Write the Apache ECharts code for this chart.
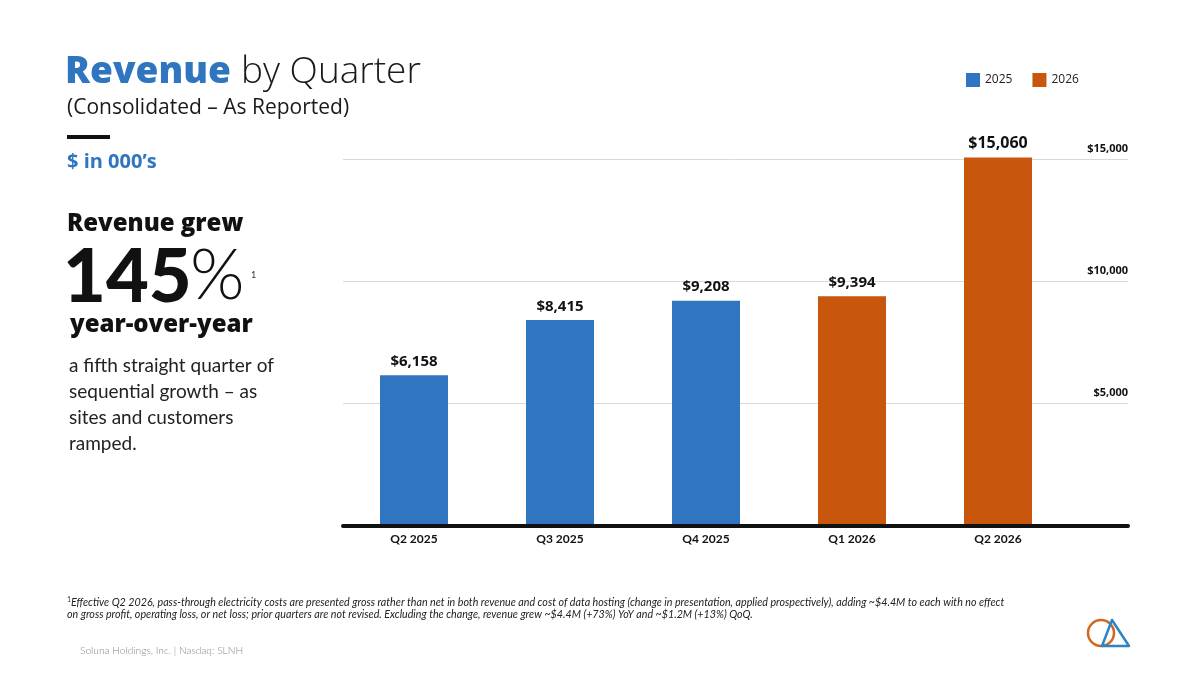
<!DOCTYPE html>
<html>
<head>
<meta charset="utf-8">
<script src="https://cdn.jsdelivr.net/npm/echarts@6/dist/echarts.min.js"></script>
<style>
html,body{margin:0;padding:0;background:#fff;}
#c{width:1200px;height:675px;}
</style>
</head>
<body>
<div id="c"></div>
<script>
const categories = ['Q2 2025', 'Q3 2025', 'Q4 2025', 'Q1 2026', 'Q2 2026'];
const revenue2025 = [6158, 8415, 9208, '-', '-'];
const revenue2026 = ['-', '-', '-', 9394, 15060];
const yTicks = [0, 5000, 10000, 15000];

const BLUE = '#2f75bf';
const ORANGE = '#c9560d';
const FONT = 'Lato, "Open Sans", sans-serif';
const HFONT = '"Open Sans", Lato, sans-serif';

const fmt = v => '$' + Number(v).toLocaleString('en-US');

const chart = echarts.init(document.getElementById('c'), null, {renderer: 'canvas'});

function txt(x, y, text, font, fill) {
  return {
    type: 'text', x: x, y: y, silent: true,
    style: {text: text, font: font, fill: fill, textAlign: 'left', textVerticalAlign: 'middle'}
  };
}

const graphics = [
  txt(65, 72, 'Revenue', '800 37px ' + HFONT, BLUE),
  txt(241, 72, 'by Quarter', '300 37px ' + HFONT, '#1a1a1a'),
  txt(67, 108, '(Consolidated \u2013 As Reported)', '400 21px ' + HFONT, '#1a1a1a'),
  {type: 'rect', silent: true, shape: {x: 67, y: 135, width: 43, height: 4}, style: {fill: '#111'}},
  txt(67, 162, '$ in 000\u2019s', '700 20px ' + HFONT, BLUE),
  txt(67, 224, 'Revenue grew', '800 24px ' + HFONT, '#111'),
  txt(63, 278, '145', '900 74px ' + FONT, '#111'),
  txt(190, 276, '%', '300 70px ' + FONT, '#111'),
  txt(251, 275, '1', '400 9px ' + FONT, '#333'),
  txt(70, 325, 'year-over-year', '800 24px ' + HFONT, '#111'),
  txt(69, 366, 'a fifth straight quarter of', '400 19px ' + FONT, '#222'),
  txt(69, 392, 'sequential growth \u2013 as', '400 19px ' + FONT, '#222'),
  txt(69, 418, 'sites and customers', '400 19px ' + FONT, '#222'),
  txt(69, 444, 'ramped.', '400 19px ' + FONT, '#222'),
  txt(67, 600, '1', '400 7px ' + FONT, '#333'),
  txt(71, 603, 'Effective Q2 2026, pass-through electricity costs are presented gross rather than net in both revenue and cost of data hosting (change in presentation, applied prospectively), adding ~$4.4M to each with no effect', 'italic 400 10.7px ' + FONT, '#222'),
  txt(67, 615, 'on gross profit, operating loss, or net loss; prior quarters are not revised. Excluding the change, revenue grew ~$4.4M (+73%) YoY and ~$1.2M (+13%) QoQ.', 'italic 400 10.7px ' + FONT, '#222'),
  txt(80, 651, 'Soluna Holdings, Inc. | Nasdaq: SLNH', '300 10.2px ' + FONT, '#888'),
  {type: 'circle', silent: true, shape: {cx: 1101, cy: 633, r: 13}, style: {fill: 'none', stroke: '#d2671f', lineWidth: 2.5}},
  {type: 'polygon', silent: true, shape: {points: [[1112, 620], [1129, 646], [1102, 646]]}, style: {fill: 'none', stroke: '#2a85c8', lineWidth: 2.5, lineJoin: 'round'}}
];

const valueLabel = {
  show: true, position: 'top', distance: 6, fontSize: 15, fontWeight: 'bold', color: '#111', fontFamily: HFONT,
  formatter: p => fmt(p.value)
};

const option = {
  backgroundColor: '#ffffff',
  animation: false,
  textStyle: {fontFamily: FONT},
  legend: {
    left: 966, top: 73, padding: 0,
    icon: 'rect', itemWidth: 14, itemHeight: 14, itemGap: 20,
    textStyle: {fontSize: 12, color: '#222', fontFamily: HFONT},
    data: ['2025', '2026']
  },
  grid: [
    {left: 341, right: 129, top: 159, bottom: 149},
    {left: 343, right: 72, top: 159, bottom: 149}
  ],
  xAxis: [
    {
      type: 'category', gridIndex: 0, data: categories,
      axisLine: {show: false}, axisTick: {show: false},
      axisLabel: {margin: 7, fontSize: 12, fontWeight: 'bold', color: '#111', fontFamily: FONT}
    },
    {
      type: 'value', gridIndex: 1, min: 0, max: 1, z: 5,
      axisLine: {show: true, lineStyle: {color: '#111', width: 4}},
      axisTick: {show: false}, axisLabel: {show: false}, splitLine: {show: false}
    }
  ],
  yAxis: [
    {
      type: 'value', gridIndex: 0, min: 0, max: 15000, interval: 5000,
      axisLine: {show: false}, axisTick: {show: false}, axisLabel: {show: false}, splitLine: {show: false}
    },
    {
      type: 'value', gridIndex: 1, min: 0, max: 15000, interval: 5000, position: 'right',
      axisLine: {show: false}, axisTick: {show: false},
      splitLine: {show: true, lineStyle: {color: '#d9d9d9', width: 1}},
      axisLabel: {
        inside: true, margin: 0, align: 'right', verticalAlign: 'bottom', padding: [0, 0, 5, 0],
        fontSize: 11, fontWeight: 'bold', color: '#111', fontFamily: HFONT,
        formatter: v => (yTicks.indexOf(v) > 0 ? fmt(v) : '')
      }
    }
  ],
  series: [
    {
      name: '2025', type: 'bar', xAxisIndex: 0, yAxisIndex: 0,
      data: revenue2025, barWidth: 68, barGap: '-100%', clip: false,
      itemStyle: {color: BLUE}, label: valueLabel
    },
    {
      name: '2026', type: 'bar', xAxisIndex: 0, yAxisIndex: 0,
      data: revenue2026, barWidth: 68, barGap: '-100%', clip: false,
      itemStyle: {color: ORANGE},
      label: Object.assign({}, valueLabel, {
        formatter: p => (p.value >= 15000 ? '{big|' + fmt(p.value) + '}' : fmt(p.value)),
        rich: {big: {fontSize: 16, fontWeight: 'bold', color: '#111', fontFamily: HFONT}}
      })
    }
  ],
  graphic: graphics
};

chart.setOption(option);
</script>
</body>
</html>
